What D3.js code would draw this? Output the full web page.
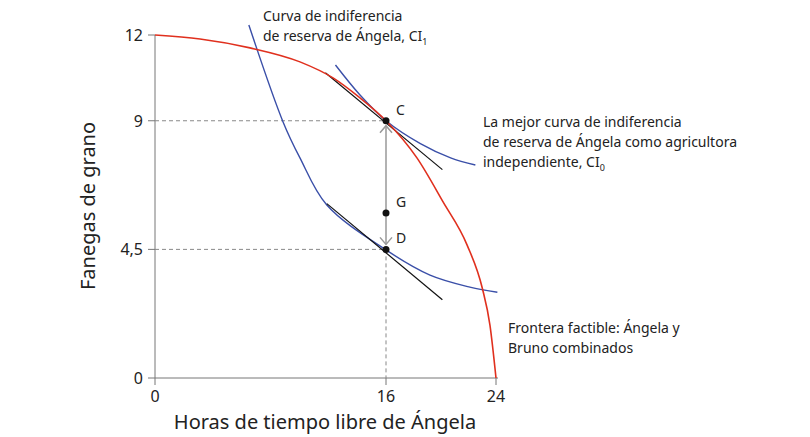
<!DOCTYPE html>
<html><head><meta charset="utf-8">
<script src="https://cdn.jsdelivr.net/npm/d3@7"></script>
<style>body{margin:0;background:#fff;font-family:"Noto Sans",sans-serif}</style>
</head><body><svg id="c" width="810" height="437"></svg>
<script>
// data
const xTicks = [0, 16, 24];
const yTicks = [0, 4.5, 9, 12];
const yTickLabels = ['0', '4,5', '9', '12'];
const frontier = [[0,12],[3.12,11.86],[6.58,11.55],[10.04,11.06],[12.33,10.5],[14.2,9.8],[16,9],[18.25,7.7],[20.15,6.16],[21.9,4.65],[23,3.15],[23.56,1.85],[24,0]];
const ci0 = [[12.5,10.95],[14.2,9.9],[16,9],[18.5,8.2],[20.7,7.7],[22.5,7.45]];
const ci1 = [[6.5,12.35],[8.87,8.96],[10.04,7.7],[11.9,6.05],[16,4.48],[19.2,3.6],[22.1,3.18],[24.1,3.0]];
const tangentC = [[11.8,10.68],[20.1,7.29]];
const tangentD = [[11.9,6.1],[20.1,2.74]];
const points = [{n:'C',x:16,y:9},{n:'G',x:16,y:5.77},{n:'D',x:16,y:4.5}];

const svg = d3.select('#c');
const x = d3.scaleLinear().domain([0,16,24]).range([155,386,496]);
const y = d3.scaleLinear().domain([0,12]).range([378,35]);
const line = d3.line().x(d=>x(d[0])).y(d=>y(d[1])).curve(d3.curveMonotoneX);
const straight = d3.line().x(d=>x(d[0])).y(d=>y(d[1]));

// axes
svg.append('line').attr('x1',x(0)).attr('x2',x(24)+2).attr('y1',y(0)).attr('y2',y(0)).attr('stroke','#777');
svg.append('line').attr('x1',x(0)).attr('x2',x(0)).attr('y1',y(0)).attr('y2',y(12)).attr('stroke','#777');
svg.selectAll('.xt').data(xTicks).enter().append('line')
  .attr('x1',d=>x(d)).attr('x2',d=>x(d)).attr('y1',y(0)).attr('y2',y(0)+7).attr('stroke','#777');
svg.selectAll('.xl').data(xTicks).enter().append('text')
  .attr('x',d=>x(d)).attr('y',402).attr('text-anchor','middle').attr('font-size',16).attr('fill','#222').text(d=>d);
svg.selectAll('.yt').data(yTicks).enter().append('line')
  .attr('x1',x(0)-7).attr('x2',x(0)).attr('y1',d=>y(d)).attr('y2',d=>y(d)).attr('stroke','#777');
svg.selectAll('.yl').data(yTicks).enter().append('text')
  .attr('x',x(0)-12).attr('y',d=>y(d)+6).attr('text-anchor','end').attr('font-size',16).attr('fill','#222')
  .text((d,i)=>yTickLabels[i]);

svg.append('text').attr('x',325).attr('y',429).attr('text-anchor','middle').attr('font-size',20).attr('fill','#222')
  .text('Horas de tiempo libre de Ángela');
svg.append('text').attr('transform','translate(95,206) rotate(-90)').attr('text-anchor','middle').attr('font-size',20).attr('fill','#222')
  .text('Fanegas de grano');

// dashed guides
[9, 4.5].forEach(v=>{
  svg.append('line').attr('x1',x(0)).attr('x2',x(16)).attr('y1',y(v)).attr('y2',y(v))
    .attr('stroke','#888').attr('stroke-dasharray','4,3');
});
svg.append('line').attr('x1',x(16)).attr('x2',x(16)).attr('y1',y(4.5)).attr('y2',y(0))
  .attr('stroke','#888').attr('stroke-dasharray','4,3');

// curves
svg.append('path').attr('d',d3.line().x(d=>x(d[0])).y(d=>y(d[1])).curve(d3.curveCatmullRom)(ci1)).attr('fill','none').attr('stroke','#3a4fa8').attr('stroke-width',1.4);
svg.append('path').attr('d',d3.line().x(d=>x(d[0])).y(d=>y(d[1])).curve(d3.curveCatmullRom)(ci0)).attr('fill','none').attr('stroke','#3a4fa8').attr('stroke-width',1.4);
svg.append('path').attr('d',straight(tangentC)).attr('stroke','#111').attr('stroke-width',1.2);
svg.append('path').attr('d',straight(tangentD)).attr('stroke','#111').attr('stroke-width',1.2);
svg.append('path').attr('d',line(frontier)).attr('fill','none').attr('stroke','#e0301e').attr('stroke-width',1.6);

// double arrow C-D
const ax = x(16), a1 = y(9)+5, a2 = y(4.5)-5;
svg.append('line').attr('x1',ax).attr('x2',ax).attr('y1',a1).attr('y2',a2).attr('stroke','#999').attr('stroke-width',1.5);
svg.append('path').attr('d',`M${ax-6},${a1+7}L${ax},${a1}L${ax+6},${a1+7}`).attr('fill','none').attr('stroke','#999').attr('stroke-width',1.5);
svg.append('path').attr('d',`M${ax-6},${a2-7}L${ax},${a2}L${ax+6},${a2-7}`).attr('fill','none').attr('stroke','#999').attr('stroke-width',1.5);

svg.selectAll('.pt').data(points).enter().append('circle')
  .attr('cx',d=>x(d.x)).attr('cy',d=>y(d.y)).attr('r',3.5).attr('fill','#111');
svg.selectAll('.pl').data(points).enter().append('text')
  .attr('x',d=>x(d.x)+10).attr('y',d=>y(d.y)-6).attr('font-size',14).attr('fill','#222').text(d=>d.n);

// annotations
function label(lines, lx, ly){
  const t = svg.append('text').attr('font-size',14).attr('fill','#222');
  lines.forEach((l,i)=>{
    const ts = t.append('tspan').attr('x',lx).attr('y',ly+i*20);
    if (Array.isArray(l)) {
      ts.text(l[0]);
      ts.append('tspan').attr('font-size',9).attr('dy',4).text(l[1]);
    } else ts.text(l);
  });
}
label(['Curva de indiferencia', ['de reserva de Ángela, CI','1']], 263, 21);
label(['La mejor curva de indiferencia', 'de reserva de Ángela como agricultora', ['independiente, CI','0']], 483, 127);
label(['Frontera factible: Ángela y', 'Bruno combinados'], 508, 333);
</script></body></html>
